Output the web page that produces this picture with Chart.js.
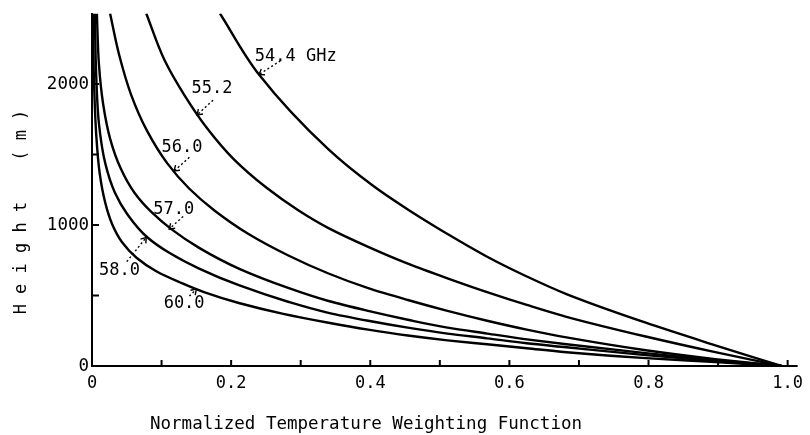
<!DOCTYPE html>
<html>
<head>
<meta charset="utf-8">
<script src="https://cdn.jsdelivr.net/npm/chart.js@4"></script>
<style>
  html, body { margin: 0; padding: 0; background: #fff; }
  #wrap { width: 810px; height: 435px; }
</style>
</head>
<body>
<div id="wrap"><canvas id="chart"></canvas></div>
<script>
// Normalized temperature weighting function vs height, one curve per channel.
// Points are [weight, height (m)].
const curve544 = [[0.184, 2500], [0.240, 2067], [0.340, 1536], [0.404, 1278], [0.454, 1110], [0.511, 936],
  [0.568, 775], [0.625, 635], [0.682, 510], [0.796, 307], [0.896, 147], [0.991, 0]]
const curve552 = [[0.078, 2500], [0.104, 2172], [0.133, 1920], [0.166, 1683], [0.204, 1466], [0.251, 1264],
  [0.297, 1103], [0.340, 978], [0.397, 845], [0.454, 726], [0.511, 622], [0.568, 524], [0.625, 433],
  [0.682, 349], [0.796, 209], [0.896, 98], [0.991, 0]]
const curve560 = [[0.026, 2500], [0.039, 2207], [0.056, 1927], [0.079, 1669], [0.108, 1439], [0.140, 1257],
  [0.176, 1103], [0.225, 936], [0.283, 782], [0.340, 656], [0.397, 552], [0.454, 468], [0.511, 391],
  [0.568, 321], [0.625, 258], [0.682, 203], [0.796, 112], [0.896, 49], [0.991, 0]]
const curve570 = [[0.007, 2500], [0.010, 2137], [0.016, 1858], [0.026, 1613], [0.041, 1404], [0.061, 1229],
  [0.086, 1089], [0.114, 971], [0.154, 838], [0.211, 691], [0.283, 552], [0.340, 461], [0.397, 391],
  [0.454, 328], [0.511, 272], [0.568, 230], [0.625, 189], [0.682, 154], [0.796, 91], [0.896, 42], [0.991, 0]]
const curve580 = [[0.004, 2500], [0.006, 2067], [0.010, 1718], [0.019, 1439], [0.033, 1229], [0.051, 1075],
  [0.079, 915], [0.111, 803], [0.154, 691], [0.211, 573], [0.283, 454], [0.340, 377], [0.397, 321],
  [0.454, 272], [0.511, 230], [0.568, 196], [0.625, 161], [0.682, 133], [0.796, 77], [0.896, 35], [0.991, 0]]
const curve600 = [[0.001, 2500], [0.003, 2000], [0.006, 1648], [0.011, 1369], [0.019, 1159], [0.029, 1006],
  [0.043, 880], [0.064, 768], [0.093, 670], [0.126, 594], [0.161, 524], [0.211, 447], [0.275, 370],
  [0.340, 307], [0.397, 258], [0.454, 216], [0.511, 182], [0.568, 154], [0.625, 126], [0.682, 98],
  [0.796, 56], [0.896, 28], [0.991, 0]]

const curves = [curve544, curve552, curve560, curve570, curve580, curve600]

// curve labels: text anchor, dotted arrow start and tip, all in data units
const labelTexts = ["54.4 GHz", "55.2", "56.0", "57.0", "58.0", "60.0"]
const labelAt    = [[0.234, 2193], [0.143, 1969], [0.100, 1550], [0.088, 1107], [0.010, 677], [0.103, 440]]
const arrowFrom  = [[0.271, 2165], [0.174, 1885], [0.140, 1480], [0.131, 1061], [0.050, 740], [0.140, 496]]
const arrowTo    = [[0.240, 2067], [0.151, 1781], [0.118, 1383], [0.111, 971], [0.078, 912], [0.150, 545]]

const xTickValues = [0, 0.2, 0.4, 0.6, 0.8, 1.0]
const xTickLabels = ["0", "0.2", "0.4", "0.6", "0.8", "1.0"]
const yTickValues = [0, 1000, 2000]
const yTickLabels = ["0", "1000", "2000"]
const xMarks = [0.1, 0.2, 0.3, 0.4, 0.5, 0.6, 0.7, 0.8, 0.9, 1.0]
const yMarks = [500, 1000, 1500, 2000]

const xTitle = "Normalized Temperature Weighting Function"
const yTitle = "H e i g h t    ( m )"

const FONT = '"DejaVu Sans Mono", "Liberation Mono", monospace'

function pick(values, labels, v) {
  const i = values.findIndex(t => Math.abs(t - v) < 1e-6)
  return i < 0 ? "" : labels[i]
}

const decor = {
  id: "decor",
  afterDraw(chart) {
    const { ctx, chartArea: a, scales: { x, y } } = chart
    ctx.save()
    ctx.strokeStyle = "#000"
    ctx.fillStyle = "#000"
    ctx.lineWidth = 2

    // inward tick marks + small overrun of the x axis past 1.0
    ctx.beginPath()
    xMarks.forEach(v => { const px = x.getPixelForValue(v); ctx.moveTo(px, a.bottom); ctx.lineTo(px, a.bottom - 6) })
    yMarks.forEach(v => { const py = y.getPixelForValue(v); ctx.moveTo(a.left, py); ctx.lineTo(a.left + 7, py) })
    ctx.moveTo(a.right, a.bottom); ctx.lineTo(a.right + 10, a.bottom)
    ctx.stroke()

    // curve labels with dotted arrows
    ctx.font = "17px " + FONT
    ctx.textAlign = "left"
    ctx.textBaseline = "middle"
    labelTexts.forEach((t, i) => {
      ctx.fillText(t, x.getPixelForValue(labelAt[i][0]), y.getPixelForValue(labelAt[i][1]))
      const x0 = x.getPixelForValue(arrowFrom[i][0]), y0 = y.getPixelForValue(arrowFrom[i][1])
      const x1 = x.getPixelForValue(arrowTo[i][0]),   y1 = y.getPixelForValue(arrowTo[i][1])
      ctx.lineWidth = 1.4
      ctx.setLineDash([2, 2.5])
      ctx.beginPath(); ctx.moveTo(x0, y0); ctx.lineTo(x1, y1); ctx.stroke()
      ctx.setLineDash([])
      const ang = Math.atan2(y0 - y1, x0 - x1)
      ctx.beginPath()
      ctx.moveTo(x1 + 6 * Math.cos(ang + 0.6), y1 + 6 * Math.sin(ang + 0.6))
      ctx.lineTo(x1, y1)
      ctx.lineTo(x1 + 6 * Math.cos(ang - 0.6), y1 + 6 * Math.sin(ang - 0.6))
      ctx.stroke()
    })

    // axis titles
    ctx.font = "17.5px " + FONT
    ctx.textAlign = "center"
    ctx.fillText(xTitle, 366, 424)
    ctx.translate(22, 212)
    ctx.rotate(-Math.PI / 2)
    ctx.font = "17px " + FONT
    ctx.fillText(yTitle, 0, 0)
    ctx.restore()
  },
}

new Chart(document.getElementById("chart"), {
  type: "scatter",
  data: {
    datasets: curves.map(c => ({
      data: c.map(([w, h]) => ({ x: w, y: h })),
      indexAxis: "y", // height is the independent variable
      showLine: true,
      borderColor: "#000",
      borderWidth: 2.4,
      pointRadius: 0,
      cubicInterpolationMode: "monotone",
      fill: false,
    })),
  },
  options: {
    responsive: true,
    maintainAspectRatio: false,
    animation: false,
    layout: { padding: { top: 8, right: 17, left: 0, bottom: 0 } },
    plugins: { legend: { display: false }, tooltip: { enabled: false } },
    scales: {
      x: {
        type: "linear", min: 0, max: 1,
        afterFit: s => { s.height = 69 },
        border: { display: true, color: "#000", width: 2 },
        grid: { display: false, drawTicks: false },
        ticks: {
          stepSize: 0.1, autoSkip: false, maxRotation: 0, padding: 7,
          color: "#000", font: { family: FONT, size: 17 },
          callback: v => pick(xTickValues, xTickLabels, v),
        },
      },
      y: {
        type: "linear", min: 0, max: 2500,
        afterFit: s => { s.width = 92 },
        border: { display: true, color: "#000", width: 2 },
        grid: { display: false, drawTicks: false },
        ticks: {
          stepSize: 500, autoSkip: false, padding: 3,
          color: "#000", font: { family: FONT, size: 17.5 },
          callback: v => pick(yTickValues, yTickLabels, v),
        },
      },
    },
  },
  plugins: [decor],
})
</script>
</body>
</html>
